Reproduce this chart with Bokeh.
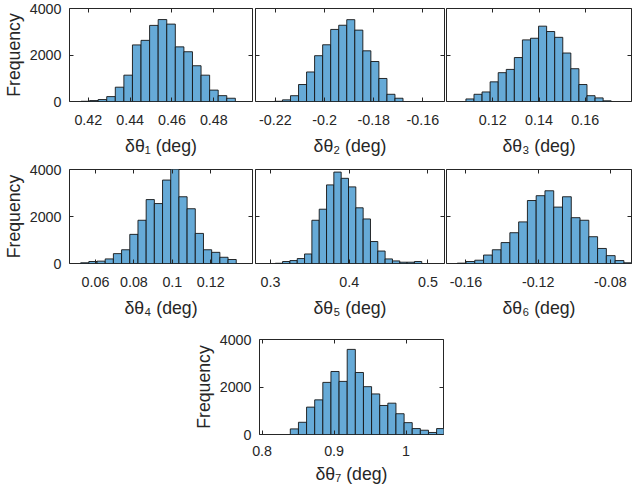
import numpy as np
from bokeh.plotting import figure
from bokeh.models import Range1d, FixedTicker, LinearAxis, Spacer
from bokeh.layouts import row, column
from bokeh.embed import file_html
from bokeh.resources import INLINE

# ---------------- data ----------------
y_ticks = [0, 2000, 4000]
y_ticklabels = ["0", "2000", "4000"]
y_label = "Frequency"
x_labels = ["δθ₁ (deg)", "δθ₂ (deg)", "δθ₃ (deg)", "δθ₄ (deg)",
            "δθ₅ (deg)", "δθ₆ (deg)", "δθ₇ (deg)"]

# subplot 1: delta theta_1
s1_start, s1_binw = 0.4165, 0.0041
s1_counts = [10, 40, 84, 210, 615, 1133, 2434, 2630, 3273, 3524, 3329, 2350,
             2140, 1538, 1133, 490, 252, 140]
s1_xlim = (0.411, 0.4985)
s1_ticks = [0.42, 0.44, 0.46, 0.48]
s1_ticklabels = ["0.42", "0.44", "0.46", "0.48"]

# subplot 2: delta theta_2
s2_start, s2_binw = -0.2204, 0.00327
s2_counts = [10, 70, 250, 730, 1270, 1970, 2440, 3100, 3280, 3520, 3070, 2180,
             1720, 990, 310, 140]
s2_xlim = (-0.2281, -0.1512)
s2_ticks = [-0.22, -0.2, -0.18, -0.16]
s2_ticklabels = ["-0.22", "-0.2", "-0.18", "-0.16"]

# subplot 3: delta theta_3
s3_start, s3_binw = 0.1084, 0.00349
s3_counts = [110, 310, 410, 845, 1240, 1380, 1890, 2650, 2720, 3240, 3010, 2760,
             2085, 1410, 730, 250, 155, 30]
s3_xlim = (0.100, 0.180)
s3_ticks = [0.12, 0.14, 0.16]
s3_ticklabels = ["0.12", "0.14", "0.16"]

# subplot 4: delta theta_4
s4_start, s4_binw = 0.0523, 0.00426
s4_counts = [30, 85, 100, 195, 420, 585, 1240, 1840, 2720, 2550, 3550, 4020,
             2840, 2330, 1280, 585, 475, 265, 170]
s4_xlim = (0.0465, 0.1417)
s4_ticks = [0.06, 0.08, 0.1, 0.12]
s4_ticklabels = ["0.06", "0.08", "0.1", "0.12"]

# subplot 5: delta theta_5
s5_start, s5_binw = 0.3061, 0.0093
s5_counts = [10, 85, 125, 210, 405, 1840, 2310, 3345, 3890, 3625, 3260, 2370,
             1895, 935, 530, 195, 110, 55, 55, 85]
s5_xlim = (0.281, 0.521)
s5_ticks = [0.3, 0.4, 0.5]
s5_ticklabels = ["0.3", "0.4", "0.5"]

# subplot 6: delta theta_6
s6_start, s6_binw = -0.16485, 0.00486
s6_counts = [15, 85, 140, 360, 585, 890, 1310, 1770, 2680, 2885, 3095, 2400,
             2840, 1950, 1840, 1140, 640, 335, 125, 30]
s6_xlim = (-0.1708, -0.0683)
s6_ticks = [-0.16, -0.12, -0.08]
s6_ticklabels = ["-0.16", "-0.12", "-0.08"]

# subplot 7: delta theta_7
s7_start, s7_binw = 0.8392, 0.01129
s7_counts = [236, 514, 1153, 1458, 2194, 2653, 2236, 3583, 2611, 2014, 1708,
             1222, 1319, 875, 500, 250, 180, 85, 250]
s7_xlim = (0.7964, 1.052)
s7_ticks = [0.8, 0.9, 1.0]
s7_ticklabels = ["0.8", "0.9", "1"]

# ---------------- styling ----------------
AX = "#262626"
FILL = "#66aad7"
TICK_FONT = "14.3px"
LABEL_FONT = "17.7px"
SANS = "Liberation Sans"


def style_axis(ax, ticks, labels=None, standoff=8):
    ax.ticker = FixedTicker(ticks=ticks)
    ax.major_tick_in = 4
    ax.major_tick_out = 0
    ax.minor_tick_line_color = None
    ax.axis_line_color = None
    ax.major_tick_line_color = AX
    ax.major_tick_line_width = 1
    if labels is None:
        ax.major_label_overrides = {t: "" for t in ticks}
        ax.major_label_text_font_size = "0px"
        ax.major_label_standoff = 0
    else:
        ax.major_label_overrides = {t: l for t, l in zip(ticks, labels)}
        ax.major_label_text_font = SANS
        ax.major_label_text_font_size = TICK_FONT
        ax.major_label_text_color = AX
        ax.major_label_standoff = standoff


def hist_fig(width, height, bl, br, bt, bb, xlim, start, binw, counts,
             xticks, xticklabels, xlabel, with_ylabel, tick_so, lab_so):
    p = figure(width=width, height=height,
               x_range=Range1d(*xlim), y_range=Range1d(0, 4000),
               toolbar_location=None, output_backend="svg",
               min_border_left=bl, min_border_right=br,
               min_border_top=bt, min_border_bottom=bb)
    edges = start + binw * np.arange(len(counts) + 1)
    p.quad(left=edges[:-1], right=edges[1:], bottom=0, top=counts,
           fill_color=FILL, line_color="#141414", line_width=0.9)
    p.grid.visible = False
    p.outline_line_color = AX
    p.outline_line_width = 1
    p.background_fill_color = "white"
    p.border_fill_color = "white"

    xa = p.xaxis[0]
    style_axis(xa, xticks, xticklabels, standoff=tick_so)
    xa.axis_label = xlabel
    xa.axis_label_text_font = SANS
    xa.axis_label_text_font_size = LABEL_FONT
    xa.axis_label_text_font_style = "normal"
    xa.axis_label_text_color = AX
    xa.axis_label_standoff = lab_so

    ya = p.yaxis[0]
    if with_ylabel:
        style_axis(ya, y_ticks, y_ticklabels, standoff=8)
        ya.axis_label = y_label
        ya.axis_label_text_font = SANS
        ya.axis_label_text_font_size = LABEL_FONT
        ya.axis_label_text_font_style = "normal"
        ya.axis_label_text_color = AX
        ya.axis_label_standoff = 3
    else:
        style_axis(ya, y_ticks, None)

    top_ax = LinearAxis()
    style_axis(top_ax, xticks, None)
    p.add_layout(top_ax, "above")
    right_ax = LinearAxis()
    style_axis(right_ax, y_ticks, None)
    p.add_layout(right_ax, "right")
    return p


# row 1
p1 = hist_fig(253, 161, 64, 1, 8, 60, s1_xlim, s1_start, s1_binw, s1_counts,
              s1_ticks, s1_ticklabels, x_labels[0], True, 13, 8)
p2 = hist_fig(192, 161, 2, 1, 8, 60, s2_xlim, s2_start, s2_binw, s2_counts,
              s2_ticks, s2_ticklabels, x_labels[1], False, 13, 8)
p3 = hist_fig(187, 161, 1, 1, 8, 60, s3_xlim, s3_start, s3_binw, s3_counts,
              s3_ticks, s3_ticklabels, x_labels[2], False, 13, 8)
# row 2
p4 = hist_fig(253, 170, 64, 1, 8, 68, s4_xlim, s4_start, s4_binw, s4_counts,
              s4_ticks, s4_ticklabels, x_labels[3], True, 13, 8)
p5 = hist_fig(192, 170, 2, 1, 8, 68, s5_xlim, s5_start, s5_binw, s5_counts,
              s5_ticks, s5_ticklabels, x_labels[4], False, 13, 8)
p6 = hist_fig(187, 170, 1, 1, 8, 68, s6_xlim, s6_start, s6_binw, s6_counts,
              s6_ticks, s6_ticklabels, x_labels[5], False, 13, 8)
# row 3
p7 = hist_fig(254, 159, 64, 1, 8, 56, s7_xlim, s7_start, s7_binw, s7_counts,
              s7_ticks, s7_ticklabels, x_labels[6], True, 11, 5)

layout = column(row(p1, p2, p3), row(p4, p5, p6),
                row(Spacer(width=190, height=159), p7))

open("out.html", "w").write(file_html(layout, INLINE))
